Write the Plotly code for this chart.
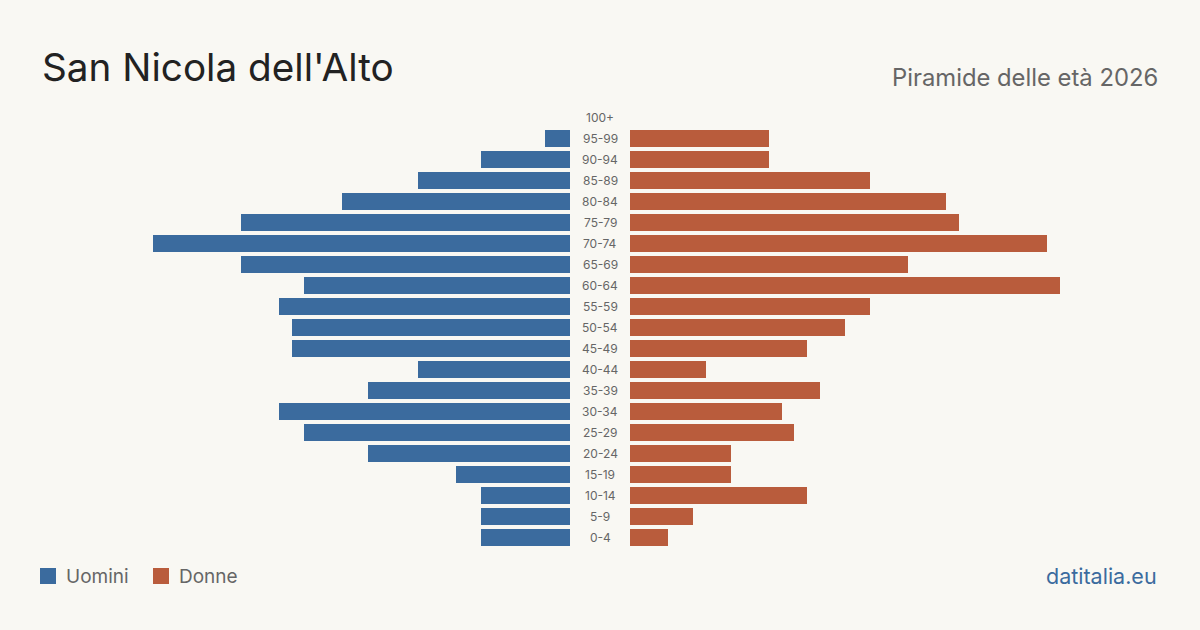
import plotly.graph_objects as go

age_groups = ["0-4", "5-9", "10-14", "15-19", "20-24", "25-29", "30-34", "35-39",
              "40-44", "45-49", "50-54", "55-59", "60-64", "65-69", "70-74", "75-79",
              "80-84", "85-89", "90-94", "95-99", "100+"]
men = [7, 7, 7, 9, 16, 21, 23, 16, 12, 22, 22, 23, 21, 26, 33, 26, 18, 12, 7, 2, 0]
women = [3, 5, 14, 8, 8, 13, 12, 15, 6, 14, 17, 19, 34, 22, 33, 26, 25, 19, 11, 11, 0]

title = "San Nicola dell'Alto"
subtitle = "Piramide delle età 2026"
source = "datitalia.eu"
men_label = "Uomini"
women_label = "Donne"

BLUE = "#3b6b9e"
ORANGE = "#b95c3c"
BG = "#f9f8f3"
FONT = "Inter"

W, H = 1200, 630
px_per_unit = 12.65
left_x0, left_x1 = 40, 570
right_x0, right_x1 = 630, 1160
R_left = (left_x1 - left_x0) / px_per_unit
R_right = (right_x1 - right_x0) / px_per_unit

fig = go.Figure()
fig.add_trace(go.Bar(y=age_groups, x=men, orientation="h", marker_color=BLUE,
                     marker_line_width=0,
                     width=0.81, xaxis="x", yaxis="y", showlegend=False, name=men_label))
fig.add_trace(go.Bar(y=age_groups, x=women, orientation="h", marker_color=ORANGE,
                     marker_line_width=0,
                     width=0.81, xaxis="x2", yaxis="y", showlegend=False, name=women_label))

y_top_px, y_bot_px = 106.5, 547.5
fig.update_layout(
    width=W, height=H,
    margin=dict(l=0, r=0, t=0, b=0),
    paper_bgcolor=BG, plot_bgcolor="rgba(0,0,0,0)",
    font=dict(family=FONT, color="#222"),
    bargap=0,
    xaxis=dict(domain=[left_x0 / W, left_x1 / W], range=[R_left, 0], visible=False, fixedrange=True),
    xaxis2=dict(domain=[right_x0 / W, right_x1 / W], range=[0, R_right], visible=False, fixedrange=True),
    yaxis=dict(domain=[1 - y_bot_px / H, 1 - y_top_px / H], type="category",
               categoryorder="array", categoryarray=age_groups,
               range=[-0.5, len(age_groups) - 0.5], visible=False, fixedrange=True),
)

annotations = []
for g in age_groups:
    annotations.append(dict(x=0.5, xref="paper", y=g, yref="y", text=g, showarrow=False,
                            xanchor="center", yanchor="middle",
                            font=dict(family=FONT, size=12, color="#666")))

annotations.append(dict(x=40 / W, y=1 - 67 / H, xref="paper", yref="paper", text=title,
                        showarrow=False, xanchor="left", yanchor="middle",
                        font=dict(family=FONT, size=38.7, color="#222")))
annotations.append(dict(x=1160 / W, y=1 - 77 / H, xref="paper", yref="paper", text=subtitle,
                        showarrow=False, xanchor="right", yanchor="middle",
                        font=dict(family=FONT, size=23.8, color="#666")))
annotations.append(dict(x=64 / W, y=1 - 576 / H, xref="paper", yref="paper", text=men_label,
                        showarrow=False, xanchor="left", yanchor="middle",
                        font=dict(family=FONT, size=19, color="#666")))
annotations.append(dict(x=177 / W, y=1 - 576 / H, xref="paper", yref="paper", text=women_label,
                        showarrow=False, xanchor="left", yanchor="middle",
                        font=dict(family=FONT, size=19, color="#666")))
annotations.append(dict(x=1159 / W, y=1 - 576 / H, xref="paper", yref="paper", text=source,
                        showarrow=False, xanchor="right", yanchor="middle",
                        font=dict(family=FONT, size=21.5, color=BLUE)))

shapes = [
    dict(type="rect", xref="paper", yref="paper", x0=40 / W, x1=56 / W,
         y0=1 - 584 / H, y1=1 - 568 / H, fillcolor=BLUE, line=dict(width=0)),
    dict(type="rect", xref="paper", yref="paper", x0=153 / W, x1=169 / W,
         y0=1 - 584 / H, y1=1 - 568 / H, fillcolor=ORANGE, line=dict(width=0)),
]
fig.update_layout(annotations=annotations, shapes=shapes)

fig.write_html("out.html")
